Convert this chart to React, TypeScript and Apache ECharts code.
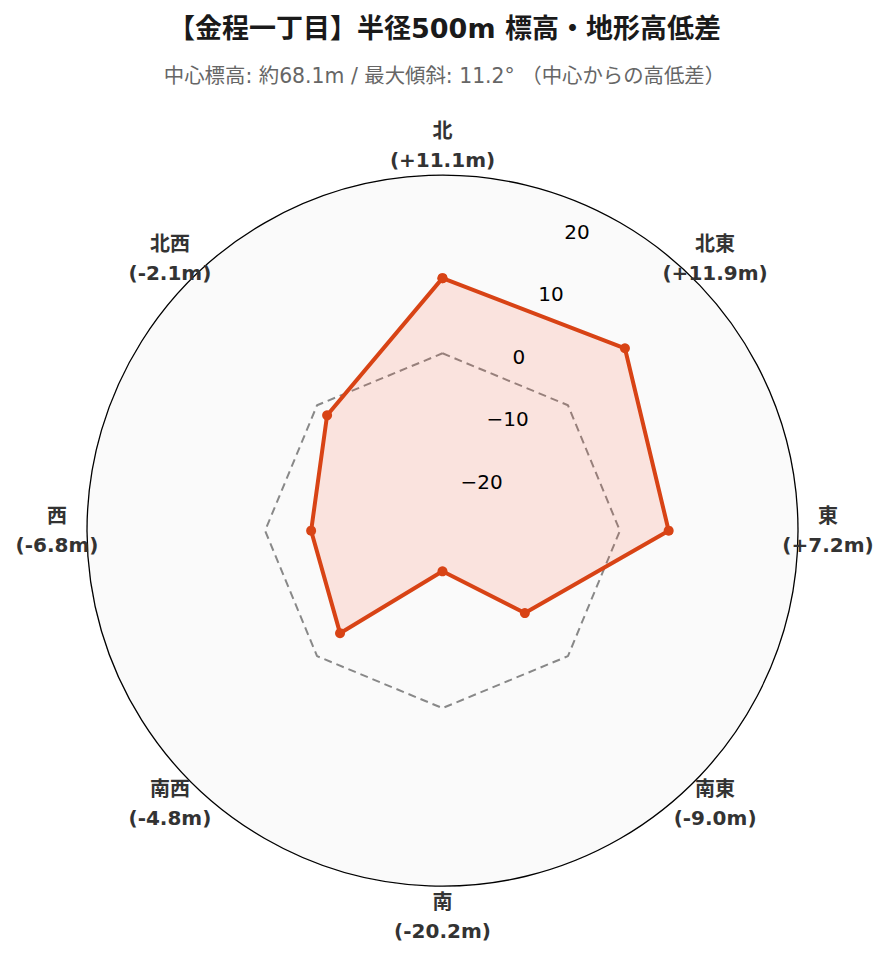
import React, { useEffect, useRef } from 'react';
import * as echarts from 'echarts';

const directions = ['北', '北東', '東', '南東', '南', '南西', '西', '北西'];
const directionAngles = [0, 45, 90, 135, 180, 225, 270, 315];
const elevationDiff = [11.1, 11.9, 7.2, -9.0, -20.2, -4.8, -6.8, -2.1];
const zeroLine = [0, 0, 0, 0, 0, 0, 0, 0];
const radialTicks = [-20, -10, 0, 10, 20];
const radialMin = -26.2;
const radialMax = 26.3;
const titleText = '【金程一丁目】半径500m 標高・地形高低差';
const subtitleText = '中心標高: 約68.1m / 最大傾斜: 11.2° （中心からの高低差）';

const FONT = "'DejaVu Sans', 'Noto Sans CJK JP', sans-serif";

function closeLoop(values: number[]) {
  const pts = values.map((v, i) => [v, directionAngles[i]]);
  pts.push([values[0], directionAngles[0]]);
  return pts;
}

function dirLabel(i: number) {
  const v = elevationDiff[i];
  const s = (v > 0 ? '+' : '') + v.toFixed(1);
  return directions[i] + '\n(' + s + 'm)';
}

export default function App() {
  const ref = useRef<HTMLDivElement>(null);
  useEffect(() => {
    if (!ref.current) return;
    const chart = echarts.init(ref.current, undefined, { renderer: 'svg' });
    const hiddenAxis = {
      axisLine: { show: false },
      axisTick: { show: false },
      axisLabel: { show: false },
      splitLine: { show: false },
      splitArea: { show: false },
    };
    const option: any = {
      animation: false,
      backgroundColor: '#ffffff',
      title: [
        {
          text: titleText,
          left: 'center',
          top: 14,
          padding: 0,
          textStyle: { fontSize: 27, fontWeight: 'bold', color: '#1a1a1a', fontFamily: FONT, lineHeight: 28 },
        },
        {
          text: subtitleText,
          left: 'center',
          top: 65,
          padding: 0,
          textStyle: { fontSize: 20.4, fontWeight: 'normal', color: '#666666', fontFamily: FONT, lineHeight: 22 },
        },
      ],
      polar: [
        { center: [442.5, 530.7], radius: 355.5 },
        { center: [444.5, 520.7], radius: 355.5 },
        { center: [442.5, 530.7], radius: 385.5 },
      ],
      angleAxis: [
        {
          polarIndex: 0,
          type: 'value',
          min: 0,
          max: 360,
          interval: 45,
          startAngle: 90,
          clockwise: true,
          axisLine: { show: true, lineStyle: { color: '#000000', width: 1.3 } },
          axisTick: { show: false },
          axisLabel: { show: false },
          splitLine: { show: true, lineStyle: { color: '#d6d6d6', width: 1, type: [2, 3] } },
          splitArea: { show: true, areaStyle: { color: ['#fafafa'] } },
        },
        { polarIndex: 1, type: 'value', min: 0, max: 360, startAngle: 67.5, clockwise: true, ...hiddenAxis },
        { polarIndex: 2, type: 'value', min: 0, max: 360, interval: 45, startAngle: 90, clockwise: true, ...hiddenAxis },
      ],
      radiusAxis: [
        {
          polarIndex: 0,
          type: 'value',
          min: radialMin,
          max: radialMax,
          splitNumber: 5,
          axisLine: { show: false },
          axisTick: { show: false },
          axisLabel: { show: false },
          splitLine: { show: true, lineStyle: { color: '#d6d6d6', width: 1, type: [2, 3] } },
        },
        {
          polarIndex: 1,
          type: 'value',
          min: radialMin,
          max: radialMax,
          splitNumber: 5,
          z: 10,
          axisLine: { show: false },
          axisTick: { show: false },
          splitLine: { show: false },
          axisLabel: {
            show: true,
            margin: 0,
            align: 'left',
            verticalAlign: 'middle',
            showMinLabel: false,
            showMaxLabel: false,
            color: '#000000',
            fontSize: 20,
            fontFamily: FONT,
            formatter: (v: number) => (radialTicks.includes(v) ? String(v).replace('-', '\u2212') : ''),
          },
        },
        { polarIndex: 2, type: 'value', min: 0, max: 1, ...hiddenAxis },
      ],
      series: [
        {
          type: 'line',
          coordinateSystem: 'polar',
          polarIndex: 0,
          data: closeLoop(zeroLine),
          symbol: 'none',
          silent: true,
          z: 2,
          lineStyle: { color: '#888888', width: 2, type: [8, 5] },
        },
        {
          type: 'line',
          coordinateSystem: 'polar',
          polarIndex: 0,
          data: closeLoop(elevationDiff),
          symbol: 'circle',
          symbolSize: 10,
          z: 3,
          itemStyle: { color: '#d84315' },
          lineStyle: { color: '#d84315', width: 4 },
          areaStyle: { color: 'rgba(255,85,45,0.19)', origin: 'start' },
        },
        {
          type: 'scatter',
          coordinateSystem: 'polar',
          polarIndex: 2,
          clip: false,
          silent: true,
          symbolSize: 1,
          z: 5,
          itemStyle: { color: 'rgba(0,0,0,0)' },
          data: directions.map((d, i) => ({ name: d, value: [1, directionAngles[i]] })),
          label: {
            show: true,
            position: 'inside',
            align: 'center',
            verticalAlign: 'middle',
            color: '#333333',
            opacity: 1,
            fontWeight: 'bold',
            fontSize: 20,
            lineHeight: 29,
            fontFamily: FONT,
            formatter: (p: any) => dirLabel(p.dataIndex),
          },
        },
      ],
    };
    chart.setOption(option);
    return () => chart.dispose();
  }, []);
  return <div ref={ref} style={{ position: 'fixed', left: 0, top: 0, width: 889, height: 962 }} />;
}
